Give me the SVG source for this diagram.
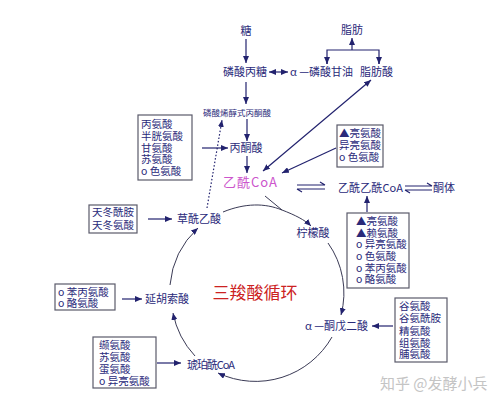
<svg xmlns="http://www.w3.org/2000/svg" width="500" height="403" viewBox="0 0 500 403">
<defs>
<marker id="ah" markerUnits="userSpaceOnUse" markerWidth="8" markerHeight="6" refX="7" refY="3" orient="auto-start-reverse">
<path d="M0,0 L7,3 L0,6 z" fill="#22226e"/>
</marker>
<style>
text{font-family:"Noto Sans CJK SC","Noto Sans",sans-serif;font-size:11px;fill:#2a2a7a}
.box{fill:none;stroke:#5a5a6a;stroke-width:1.2}
.bt{font-size:10.5px}
.ln{fill:none;stroke:#22226e;stroke-width:1.2}
.arc{fill:none;stroke:#3a3a55;stroke-width:1}
.c{text-anchor:middle}
</style>
</defs>
<rect width="500" height="403" fill="#fff"/>

<g id="connectors">
<line class="ln" x1="246" y1="39" x2="246" y2="63" marker-end="url(#ah)"/>
<line class="ln" x1="246" y1="82" x2="246" y2="104" marker-end="url(#ah)"/>
<line class="ln" x1="247" y1="119" x2="247" y2="141" marker-end="url(#ah)"/>
<line class="ln" x1="202" y1="148" x2="228" y2="148" marker-end="url(#ah)"/>
<line class="ln" x1="247" y1="156" x2="247" y2="173" marker-end="url(#ah)"/>
<line class="ln" x1="269" y1="72" x2="288" y2="72" marker-start="url(#ah)" marker-end="url(#ah)"/>
<line class="ln" x1="352" y1="50" x2="352" y2="38" marker-end="url(#ah)"/>
<polyline class="ln" points="327,64 327,50 379,50 379,64"/>
<line class="ln" x1="327" y1="58" x2="327" y2="64" marker-end="url(#ah)"/>
<line class="ln" x1="379" y1="58" x2="379" y2="64" marker-end="url(#ah)"/>
<line class="ln" x1="263" y1="171" x2="371" y2="80" marker-start="url(#ah)" marker-end="url(#ah)"/>
<line class="ln" x1="336" y1="148" x2="282" y2="173" marker-end="url(#ah)"/>
<line class="ln" x1="207" y1="208" x2="222" y2="120" stroke-dasharray="1.5,2" marker-end="url(#ah)"/>
<path class="ln" d="M297,185 L325,185 M320,182 L325,185 M297,189 L325,189 M297,189 L302,192"/>
<path class="ln" d="M405,186 L432,186 M427,183 L432,186 M405,190 L432,190 M405,190 L410,193"/>
<line class="ln" x1="367" y1="212" x2="367" y2="196" marker-end="url(#ah)"/>
<line class="ln" x1="148" y1="219" x2="172" y2="219" marker-end="url(#ah)"/>
<line class="ln" x1="122" y1="299" x2="142" y2="299" marker-end="url(#ah)"/>
<line class="ln" x1="157" y1="363" x2="181" y2="363" marker-end="url(#ah)"/>
<line class="ln" x1="393" y1="326" x2="372" y2="326" marker-end="url(#ah)"/>
<path class="arc" d="M223,212 C245,203 265,203 282,210 C295,215 305,220 311,226" marker-end="url(#ah)"/>
<path class="arc" d="M265,196 L282,210"/>
<path class="arc" d="M328,243 A86,86 0 0 1 341,315" marker-end="url(#ah)"/>
<path class="arc" d="M332,337 A88,88 0 0 1 218,373" marker-end="url(#ah)"/>
<path class="arc" d="M195,356 A88,88 0 0 1 173,313" marker-end="url(#ah)"/>
<path class="arc" d="M170,285 A88,88 0 0 1 198,228" marker-end="url(#ah)"/>
</g>

<g id="tang"><text class="c" x="246" y="35">糖</text></g>
<g id="zhifang"><text class="c" x="352" y="34">脂肪</text></g>
<g id="linsuanbingtang"><text x="223" y="76">磷酸丙糖</text></g>
<g id="linsuanganyou"><text x="290" y="76" textLength="63">α —磷酸甘油</text></g>
<g id="zhifangsuan"><text x="360" y="76">脂肪酸</text></g>
<g id="pep"><text x="203" y="115.5" style="font-size:8.5px">磷酸烯醇式丙酮酸</text></g>
<g id="bingtongsuan"><text class="c" x="246" y="152">丙酮酸</text></g>
<g id="yixianCoA"><text x="223" y="187" style="font-size:13px;fill:#cc55cc" textLength="54">乙酰CoA</text></g>
<g id="yixianyixianCoA"><text x="338" y="192" textLength="65">乙酰乙酰CoA</text></g>
<g id="tongti"><text x="433" y="192">酮体</text></g>
<g id="caoxianyisuan"><text class="c" x="199" y="223">草酰乙酸</text></g>
<g id="ningmengsuan"><text class="c" x="313" y="237">柠檬酸</text></g>
<g id="tongwuersuan"><text x="305" y="330" textLength="63">α —酮戊二酸</text></g>
<g id="huposuanCoA"><text x="187" y="369" textLength="48">琥珀酰CoA</text></g>
<g id="yanhusuosuan"><text x="145" y="303">延胡索酸</text></g>
<g id="tca"><text class="c" x="255" y="299" style="font-size:17px;fill:#cc2222">三羧酸循环</text></g>

<g id="boxA">
<rect class="box" x="138" y="115" width="54" height="65"/>
<text class="bt" x="141" y="128">丙氨酸</text>
<text class="bt" x="141" y="140">半胱氨酸</text>
<text class="bt" x="141" y="152">甘氨酸</text>
<text class="bt" x="141" y="163">苏氨酸</text>
<text class="bt" x="141" y="175">o 色氨酸</text>
</g>
<g id="boxB">
<rect class="box" x="337" y="125" width="46" height="42"/>
<text class="bt" x="339" y="137">▲亮氨酸</text>
<text class="bt" x="339" y="149">异亮氨酸</text>
<text class="bt" x="339" y="161">o 色氨酸</text>
</g>
<g id="boxC">
<rect class="box" x="89" y="205" width="48" height="28"/>
<text class="bt" x="92" y="216">天冬酰胺</text>
<text class="bt" x="92" y="229">天冬氨酸</text>
</g>
<g id="boxD">
<rect class="box" x="55" y="284" width="60" height="26"/>
<text class="bt" x="58" y="296">o 苯丙氨酸</text>
<text class="bt" x="58" y="307">o 酪氨酸</text>
</g>
<g id="boxE">
<rect class="box" x="347" y="213" width="62" height="75"/>
<text class="bt" x="356" y="225">▲亮氨酸</text>
<text class="bt" x="356" y="237">▲赖氨酸</text>
<text class="bt" x="356" y="248">o 异亮氨酸</text>
<text class="bt" x="356" y="260">o 色氨酸</text>
<text class="bt" x="356" y="272">o 苯丙氨酸</text>
<text class="bt" x="356" y="283">o 酪氨酸</text>
</g>
<g id="boxF">
<rect class="box" x="395" y="298" width="52" height="64"/>
<text class="bt" x="399" y="310">谷氨酸</text>
<text class="bt" x="399" y="322">谷氨酰胺</text>
<text class="bt" x="399" y="335">精氨酸</text>
<text class="bt" x="399" y="347">组氨酸</text>
<text class="bt" x="399" y="358">脯氨酸</text>
</g>
<g id="boxG">
<rect class="box" x="93" y="337" width="63" height="51"/>
<text class="bt" x="99" y="349">缬氨酸</text>
<text class="bt" x="99" y="361">苏氨酸</text>
<text class="bt" x="99" y="373">蛋氨酸</text>
<text class="bt" x="99" y="385">o 异亮氨酸</text>
</g>
<g id="watermark"><text x="380" y="389" style="font-size:15px;fill:#c4c4c4">知乎 @发酵小兵</text></g>
</svg>
